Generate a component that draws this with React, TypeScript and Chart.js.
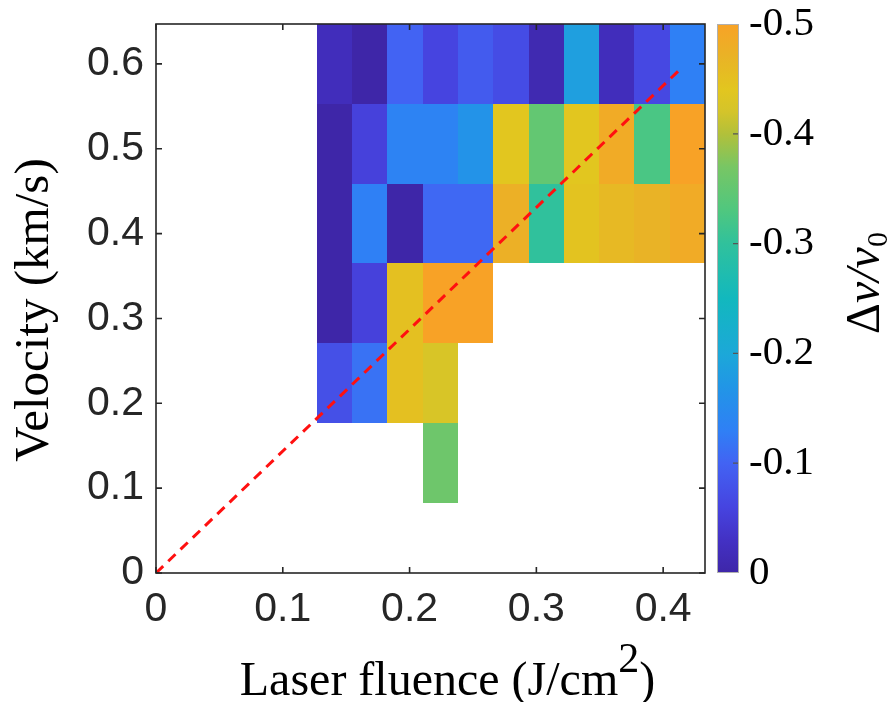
import React, { useEffect, useRef } from 'react';
import { Chart, registerables } from 'chart.js';

Chart.register(...registerables);

// ---- data ----
const fluence = [0.1407, 0.1685, 0.1963, 0.2242, 0.252, 0.2799, 0.3077, 0.3355, 0.3634, 0.3912, 0.419];
const velocity = [0.13, 0.224, 0.318, 0.412, 0.506, 0.6];
const cellW = 0.0278;
const cellH = 0.0941;

// rows bottom (0.13 km/s) to top (0.60 km/s), one value per fluence column (null = no data)
const row013 = [null, null, null, -0.36, null, null, null, null, null, null, null];
const row022 = [-0.075, -0.115, -0.45, -0.425, null, null, null, null, null, null, null];
const row032 = [0, -0.055, -0.45, -0.5, -0.5, null, null, null, null, null, null];
const row041 = [0, -0.13, 0, -0.105, -0.105, -0.475, -0.3, -0.445, -0.46, -0.47, -0.485];
const row051 = [0, -0.055, -0.135, -0.135, -0.165, -0.44, -0.35, -0.44, -0.485, -0.325, -0.5];
const row060 = [-0.02, 0, -0.1, -0.06, -0.09, -0.07, -0.01, -0.185, -0.02, -0.065, -0.13];
const rows = [row013, row022, row032, row041, row051, row060];

const xTicks = [0, 0.1, 0.2, 0.3, 0.4];
const yTicks = [0, 0.1, 0.2, 0.3, 0.4, 0.5, 0.6];
const cbTicks = [-0.5, -0.4, -0.3, -0.2, -0.1, 0];
const xMax = 0.433;
const yMax = 0.647;

// red dashed guide line
const guideX = [0, 0.415];
const guideY = [0, 0.596];

// colormap (value -> colour)
const cmapValues = [0, -0.03, -0.06, -0.1, -0.13, -0.17, -0.2, -0.25, -0.3, -0.33, -0.37, -0.4, -0.42, -0.44, -0.47, -0.5];
const cmapColors = ['#3e26a8', '#4331c4', '#4644e0', '#4263f3', '#2f80f5', '#2196e6', '#1ca8d8', '#12b8be', '#30c19c', '#4fc77f', '#78c664', '#b2c03a', '#d4c42a', '#e2c61f', '#e9b326', '#f8a226'];

function hexToRgb(h: string) {
  return [parseInt(h.slice(1, 3), 16), parseInt(h.slice(3, 5), 16), parseInt(h.slice(5, 7), 16)];
}
function colorFor(v: number) {
  if (v >= cmapValues[0]) return cmapColors[0];
  for (let i = 1; i < cmapValues.length; i++) {
    if (v >= cmapValues[i]) {
      const a = cmapValues[i - 1], b = cmapValues[i];
      const t = (v - a) / (b - a);
      const c1 = hexToRgb(cmapColors[i - 1]), c2 = hexToRgb(cmapColors[i]);
      const c = c1.map((x, k) => Math.round(x + (c2[k] - x) * t));
      return `rgb(${c[0]},${c[1]},${c[2]})`;
    }
  }
  return cmapColors[cmapColors.length - 1];
}

const SANS = "'Liberation Sans', Arial, Helvetica, sans-serif";
const SERIF = "'Liberation Serif', 'Times New Roman', serif";
const AXIS_COLOR = '#262626';

const fmt = (v: number) => (Math.abs(v) < 1e-9 ? '0' : Number(v).toFixed(1));

const noPad = (s: any) => {
  s.paddingTop = 0;
  s.paddingBottom = 0;
  s.paddingLeft = 0;
  s.paddingRight = 0;
};

const heatPlugin = {
  id: 'heat',
  beforeDatasetsDraw(chart: any) {
    const { ctx, chartArea, scales } = chart;
    const x = scales.x, y = scales.y;
    ctx.save();
    ctx.beginPath();
    ctx.rect(chartArea.left, chartArea.top, chartArea.right - chartArea.left, chartArea.bottom - chartArea.top);
    ctx.clip();
    const data = chart.data.datasets[0].data;
    for (const p of data) {
      if (p.v === null || p.v === undefined) continue;
      const x0 = Math.round(x.getPixelForValue(p.x - cellW / 2));
      const x1 = Math.round(x.getPixelForValue(p.x + cellW / 2));
      const y0 = Math.round(y.getPixelForValue(p.y + cellH / 2));
      const y1 = Math.round(y.getPixelForValue(p.y - cellH / 2));
      ctx.fillStyle = colorFor(p.v);
      ctx.fillRect(x0, y0, x1 - x0, y1 - y0);
    }
    ctx.restore();
  },
  afterDraw(chart: any) {
    const { ctx, chartArea, scales } = chart;
    const x = scales.x, y = scales.y, c = scales.c;
    const { left, right, top, bottom } = chartArea;
    ctx.save();
    // box
    ctx.strokeStyle = AXIS_COLOR;
    ctx.lineWidth = 1.6;
    ctx.strokeRect(left, top, right - left, bottom - top);
    // inward ticks
    const tl = 6;
    ctx.beginPath();
    for (const t of xTicks) {
      const px = x.getPixelForValue(t);
      ctx.moveTo(px, bottom); ctx.lineTo(px, bottom - tl);
      ctx.moveTo(px, top); ctx.lineTo(px, top + tl);
    }
    for (const t of yTicks) {
      const py = y.getPixelForValue(t);
      ctx.moveTo(left, py); ctx.lineTo(left + tl, py);
      ctx.moveTo(right, py); ctx.lineTo(right - tl, py);
    }
    ctx.stroke();

    // colorbar
    const cbL = right + 12, cbR = right + 34;
    const cbT = c.getPixelForValue(-0.5), cbB = c.getPixelForValue(0);
    const grad = ctx.createLinearGradient(0, cbB, 0, cbT);
    cmapValues.forEach((v, i) => {
      const f = (c.getPixelForValue(v) - cbB) / (cbT - cbB);
      grad.addColorStop(Math.min(1, Math.max(0, f)), cmapColors[i]);
    });
    ctx.fillStyle = grad;
    ctx.fillRect(cbL, cbT, cbR - cbL, cbB - cbT);
    ctx.strokeStyle = '#b0b0b0';
    ctx.lineWidth = 1;
    ctx.strokeRect(cbL + 0.5, cbT + 0.5, cbR - cbL - 1, cbB - cbT - 1);
    ctx.strokeStyle = '#555555';
    ctx.lineWidth = 1.2;
    ctx.beginPath();
    for (const t of cbTicks) {
      if (t === -0.5 || t === 0) continue;
      const py = c.getPixelForValue(t);
      ctx.moveTo(cbR - 1, py); ctx.lineTo(cbR - 6, py);
    }
    ctx.stroke();

    // colorbar title  Δv/v0 (rotated, reading upwards)
    ctx.fillStyle = '#000';
    ctx.translate(879, 283);
    ctx.rotate(-Math.PI / 2);
    ctx.textBaseline = 'alphabetic';
    ctx.textAlign = 'left';
    const fN = `48px ${SERIF}`, fI = `italic 48px ${SERIF}`, fS = `30px ${SERIF}`;
    ctx.font = fN; const wD = ctx.measureText('Δ').width;
    ctx.font = fI; const wV = ctx.measureText('v/v').width;
    ctx.font = fS; const wS = ctx.measureText('0').width;
    let sx = -(wD + wV + wS) / 2;
    ctx.font = fN; ctx.fillText('Δ', sx, 0); sx += wD;
    ctx.font = fI; ctx.fillText('v/v', sx, 0); sx += wV;
    ctx.font = fS; ctx.fillText('0', sx, 8);
    ctx.setTransform(1, 0, 0, 1, 0, 0);

    // y title
    ctx.save();
    ctx.translate(48, 310);
    ctx.rotate(-Math.PI / 2);
    ctx.font = `49px ${SERIF}`;
    ctx.textAlign = 'center';
    ctx.textBaseline = 'alphabetic';
    ctx.fillStyle = '#000';
    ctx.fillText('Velocity (km/s)', 0, 0);
    ctx.restore();

    // x title with superscript
    const f1 = `48px ${SERIF}`, f2 = `42px ${SERIF}`;
    ctx.font = f1; const w1 = ctx.measureText('Laser fluence (J/cm').width;
    ctx.font = f2; const w2 = ctx.measureText('2').width;
    ctx.font = f1; const w3 = ctx.measureText(')').width;
    const cx = (left + right) / 2 + 17;
    let xx = cx - (w1 + w2 + w3) / 2;
    const base = 695;
    ctx.textAlign = 'left';
    ctx.textBaseline = 'alphabetic';
    ctx.fillStyle = '#000';
    ctx.font = f1; ctx.fillText('Laser fluence (J/cm', xx, base); xx += w1;
    ctx.font = f2; ctx.fillText('2', xx, base - 23); xx += w2;
    ctx.font = f1; ctx.fillText(')', xx, base);
    ctx.restore();
  },
};

export default function App() {
  const ref = useRef<HTMLCanvasElement | null>(null);
  useEffect(() => {
    if (!ref.current) return;
    const cells: any[] = [];
    rows.forEach((r, i) => r.forEach((v, j) => cells.push({ x: fluence[j], y: velocity[i], v })));
    const guide = guideX.map((gx, i) => ({ x: gx, y: guideY[i] }));
    const chart = new Chart(ref.current, {
      type: 'scatter',
      data: {
        datasets: [
          { label: 'cells', data: cells, pointRadius: 0, pointHoverRadius: 0, showLine: false },
          {
            label: 'guide',
            data: guide,
            showLine: true,
            borderColor: '#ff1010',
            borderWidth: 3,
            borderDash: [10, 7],
            pointRadius: 0,
            fill: false,
          },
        ],
      },
      options: {
        animation: false,
        responsive: false,
        events: [],
        layout: { padding: { top: 24, left: 0, right: 0, bottom: 0 } },
        plugins: { legend: { display: false }, tooltip: { enabled: false } },
        scales: {
          x: {
            type: 'linear',
            min: 0,
            max: xMax,
            grid: { display: false, drawTicks: false },
            border: { display: false },
            afterBuildTicks: (s: any) => { s.ticks = xTicks.map((v) => ({ value: v })); },
            afterFit: (s: any) => { s.height = 129; noPad(s); },
            ticks: {
              includeBounds: false,
              padding: 12,
              color: AXIS_COLOR,
              font: { family: SANS, size: 41 },
              callback: (v: any) => fmt(v),
              maxRotation: 0,
              autoSkip: false,
            },
          },
          y: {
            type: 'linear',
            min: 0,
            max: yMax,
            grid: { display: false, drawTicks: false },
            border: { display: false },
            afterBuildTicks: (s: any) => { s.ticks = yTicks.map((v) => ({ value: v })); },
            afterFit: (s: any) => { s.width = 156; noPad(s); },
            ticks: {
              includeBounds: false,
              padding: 12,
              color: AXIS_COLOR,
              font: { family: SANS, size: 41 },
              callback: (v: any) => fmt(v),
              autoSkip: false,
            },
          },
          c: {
            type: 'linear',
            axis: 'y',
            position: 'right',
            min: -0.5,
            max: 0,
            reverse: true,
            grid: { display: false, drawTicks: false },
            border: { display: false },
            afterBuildTicks: (s: any) => { s.ticks = cbTicks.map((v) => ({ value: v })); },
            afterFit: (s: any) => { s.width = 185; noPad(s); },
            ticks: {
              padding: 44,
              color: '#000',
              font: { family: SERIF, size: 41 },
              callback: (v: any) => fmt(v),
              autoSkip: false,
            },
          },
        },
      } as any,
      plugins: [heatPlugin],
    });
    return () => chart.destroy();
  }, []);
  return (
    <div style={{ position: 'absolute', left: 0, top: 0, width: 890, height: 702, background: '#fff' }}>
      <canvas ref={ref} width={890} height={702} style={{ display: 'block' }} />
    </div>
  );
}
